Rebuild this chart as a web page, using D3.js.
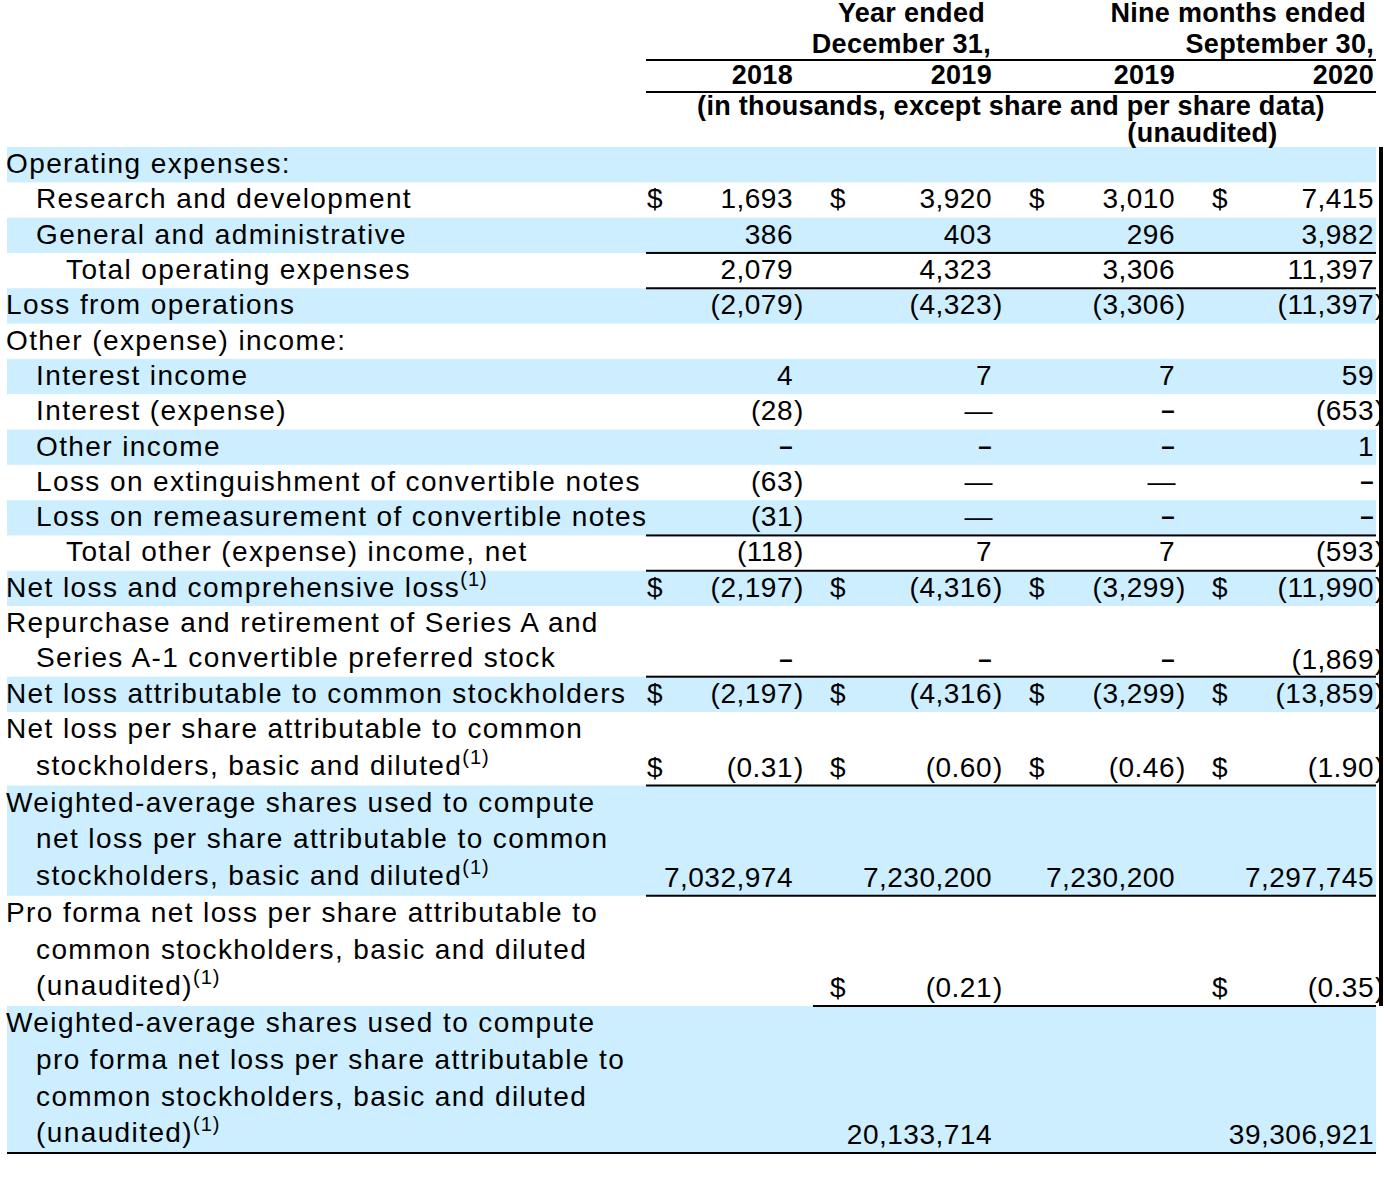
<!DOCTYPE html>
<html>
<head>
<meta charset="utf-8">
<script src="https://cdn.jsdelivr.net/npm/d3@7"></script>
<style>
  body { margin: 0; background: #fff; }
  #chart { width: 1384px; height: 1200px; }
  text { font-family: "Liberation Sans", Arial, sans-serif; fill: #000; }
  .label { font-size: 28px; letter-spacing: 1.4px; }
  .num { font-size: 28px; letter-spacing: 0.5px; }
  .head { font-size: 27px; font-weight: bold; letter-spacing: 0.3px; }
</style>
</head>
<body>
<div id="chart"></div>
<script>
/* table data */
const columns = ["fy2018", "fy2019", "nm2019", "nm2020"];
const yearLabels = ["2018", "2019", "2019", "2020"];
const periodLabels = [["Year ended", "December 31,"], ["Nine months ended", "September 30,"]];
const unitNote = "(in thousands, except share and per share data)";
const auditNote = "(unaudited)";

const rowLabels = [
    ["Operating expenses:"],
    ["Research and development"],
    ["General and administrative"],
    ["Total operating expenses"],
    ["Loss from operations"],
    ["Other (expense) income:"],
    ["Interest income"],
    ["Interest (expense)"],
    ["Other income"],
    ["Loss on extinguishment of convertible notes"],
    ["Loss on remeasurement of convertible notes"],
    ["Total other (expense) income, net"],
    ["Net loss and comprehensive loss"],
    ["Repurchase and retirement of Series A and", "Series A-1 convertible preferred stock"],
    ["Net loss attributable to common stockholders"],
    ["Net loss per share attributable to common", "stockholders, basic and diluted"],
    ["Weighted-average shares used to compute", "net loss per share attributable to common", "stockholders, basic and diluted"],
    ["Pro forma net loss per share attributable to", "common stockholders, basic and diluted", "(unaudited)"],
    ["Weighted-average shares used to compute", "pro forma net loss per share attributable to", "common stockholders, basic and diluted", "(unaudited)"]
];
const rowIndent = [0, 1, 1, 2, 0, 0, 1, 1, 1, 1, 1, 2, 0, 0, 0, 0, 0, 0, 0];
const noteRows = [12, 15, 16, 17, 18];
const dollarRows = [1, 12, 14, 15, 17];
const perShareRows = [15, 17];

// "—" and "-" are the dashes as printed, null is an empty cell
const fy2018 = [null, 1693, 386, 2079, -2079, null, 4, -28, "-", -63, -31, -118, -2197, "-", -2197, -0.31, 7032974, null, null];
const fy2019 = [null, 3920, 403, 4323, -4323, null, 7, "—", "-", "—", "—", 7, -4316, "-", -4316, -0.60, 7230200, -0.21, 20133714];
const nm2019 = [null, 3010, 296, 3306, -3306, null, 7, "-", "-", "—", "-", 7, -3299, "-", -3299, -0.46, 7230200, null, null];
const nm2020 = [null, 7415, 3982, 11397, -11397, null, 59, -653, 1, "-", "-", -593, -11990, -1869, -13859, -1.90, 7297745, -0.35, 39306921];
const values = { fy2018, fy2019, nm2019, nm2020 };

/* svg */
const width = 1384;
const height = 1200;
const tableLeft = 7, tableRight = 1376;

const svg = d3.select("#chart")
    .append("svg")
    .attr("width", width)
    .attr("height", height);

svg.append("rect").attr("width", width).attr("height", height).attr("fill", "#fff");

// line positions: every label line is one step
const lineStart = [];
let acc = 0;
rowLabels.forEach(l => { lineStart.push(acc); acc += l.length; });
const yLine = d3.scaleLinear().domain([0, 16, acc]).range([147, 712, 1153]);
const baseline = 26;

// column positions
const colRight = d3.scaleOrdinal().domain(columns).range([793, 992, 1175, 1374]);
const colDollar = d3.scaleOrdinal().domain(columns).range([647, 830, 1029, 1212]);
const colLeft = d3.scaleOrdinal().domain(columns).range([646, 813, 1012, 1195]);
const indentX = d3.scaleLinear().domain([0, 1]).range([6, 36]);

const fmtInt = d3.format(",");
const fmtEps = d3.format(".2f");

// shaded bands
svg.append("g").selectAll("rect")
    .data(rowLabels.map((l, i) => i).filter(i => i % 2 === 0))
    .join("rect")
    .attr("x", tableLeft)
    .attr("y", i => yLine(lineStart[i]))
    .attr("width", tableRight - tableLeft)
    .attr("height", i => yLine(lineStart[i] + rowLabels[i].length) - yLine(lineStart[i]))
    .attr("fill", "#cceeff");

// header
const head = svg.append("g").attr("class", "head");
head.selectAll(".period1")
    .data(periodLabels[0])
    .join("text")
    .attr("x", (d, i) => colRight("fy2019") - (i === 0 ? 7 : 1))
    .attr("y", (d, i) => 22 + i * 31)
    .attr("text-anchor", "end")
    .text(d => d);
head.selectAll(".period2")
    .data(periodLabels[1])
    .join("text")
    .attr("x", (d, i) => colRight("nm2020") - (i === 0 ? 8 : 0))
    .attr("y", (d, i) => 22 + i * 31)
    .attr("text-anchor", "end")
    .text(d => d);
head.selectAll(".year")
    .data(columns)
    .join("text")
    .attr("x", d => colRight(d))
    .attr("y", 84)
    .attr("text-anchor", "end")
    .text((d, i) => yearLabels[i]);
head.append("text")
    .attr("x", (colLeft("fy2018") + tableRight) / 2)
    .attr("y", 115)
    .attr("text-anchor", "middle")
    .text(unitNote);
head.append("text")
    .attr("x", (colDollar("nm2019") + tableRight) / 2)
    .attr("y", 142)
    .attr("text-anchor", "middle")
    .text(auditNote);

[60, 92].forEach(y => {
    svg.append("rect")
        .attr("x", colLeft("fy2018")).attr("y", y - 1)
        .attr("width", tableRight - colLeft("fy2018")).attr("height", 2)
        .attr("fill", "#000");
});

// row labels
const labels = svg.append("g").attr("class", "label");
rowLabels.forEach((lines, i) => {
    lines.forEach((line, k) => {
        const t = labels.append("text")
            .attr("x", indentX(k === 0 ? rowIndent[i] : rowIndent[i] + 1))
            .attr("y", yLine(lineStart[i] + k) + baseline);
        t.append("tspan").text(line);
        if (k === lines.length - 1 && noteRows.includes(i)) {
            t.append("tspan")
                .attr("dy", -11)
                .attr("font-size", 20)
                .attr("letter-spacing", 1)
                .text("(1)");
        }
    });
});

// numbers
const nums = svg.append("g").attr("class", "num");
columns.forEach(col => {
    values[col].forEach((v, i) => {
        if (v === null) return;
        const y = yLine(lineStart[i] + rowLabels[i].length - 1) + baseline + (rowLabels[i].length > 1 ? 2 : 0);
        const x = colRight(col);
        if (dollarRows.includes(i)) {
            nums.append("text").attr("x", colDollar(col)).attr("y", y).text("$");
        }
        if (v === "—") {
            nums.append("text").attr("x", x + 1).attr("y", y)
                .attr("text-anchor", "end").text("—");
            return;
        }
        if (v === "-") {
            nums.append("text").attr("x", x).attr("y", y - 2)
                .attr("text-anchor", "end")
                .attr("font-size", 24).attr("font-weight", "bold")
                .text("–");
            return;
        }
        const fmt = perShareRows.includes(i) ? fmtEps : fmtInt;
        if (v < 0) {
            nums.append("text").attr("x", x).attr("y", y)
                .attr("text-anchor", "end").text("(" + fmt(-v));
            nums.append("text").attr("x", x + 1).attr("y", y).text(")");
        } else {
            nums.append("text").attr("x", x).attr("y", y)
                .attr("text-anchor", "end").text(fmt(v));
        }
    });
});

// rules under rows
const rules = [
    { row: 2, from: "fy2018" }, { row: 3, from: "fy2018" }, { row: 10, from: "fy2018" },
    { row: 11, from: "fy2018" }, { row: 13, from: "fy2018" }, { row: 15, from: "fy2018" },
    { row: 16, from: "fy2018" }, { row: 17, from: "fy2019" }, { row: 18, from: null }
];
svg.append("g").selectAll("rect")
    .data(rules)
    .join("rect")
    .attr("x", d => d.from ? colLeft(d.from) : tableLeft)
    .attr("y", d => yLine(lineStart[d.row] + rowLabels[d.row].length) - 1)
    .attr("width", d => tableRight - (d.from ? colLeft(d.from) : tableLeft))
    .attr("height", 2)
    .attr("fill", "#000");

// right edge bar
svg.append("rect")
    .attr("x", 1379)
    .attr("y", yLine(0))
    .attr("width", 4)
    .attr("height", yLine(lineStart[18]) - yLine(0))
    .attr("fill", "#000");
</script>
</body>
</html>
